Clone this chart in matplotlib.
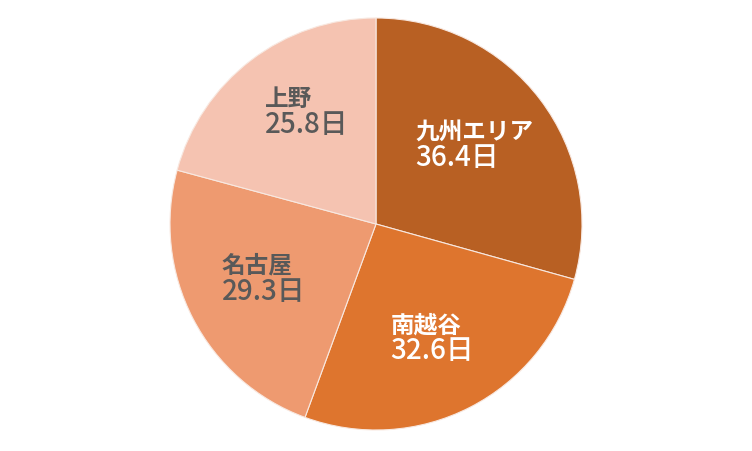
import matplotlib
matplotlib.use("Agg")
import matplotlib.pyplot as plt

names = ["九州エリア", "南越谷", "名古屋", "上野"]
values = [36.4, 32.6, 29.3, 25.8]
unit = "日"

colors = ["#B86023", "#DE752E", "#EE9A70", "#F5C3B1"]
text_colors = ["white", "white", "#595959", "#595959"]
label_pos = [(0.19, 0.37), (0.07, -0.57), (-0.75, -0.28), (-0.54, 0.53)]

plt.rcParams['font.family'] = ['Noto Sans CJK JP', 'DejaVu Sans']

W, H = 752, 452
fig = plt.figure(figsize=(W / 100, H / 100), dpi=100)
cx, cy, R = 376, 225, 206
ax = fig.add_axes([(cx - R) / W, (H - cy - R) / H, 2 * R / W, 2 * R / H])
ax.pie(values, colors=colors, startangle=90, counterclock=False, radius=1,
       wedgeprops=dict(edgecolor="#F8E8E0", linewidth=0.8))
ax.set_xlim(-1, 1)
ax.set_ylim(-1, 1)
ax.set_aspect("equal")
ax.axis("off")

for name, v, tc, (x, y) in zip(names, values, text_colors, label_pos):
    ax.text(x, y + 0.025, name, color=tc, fontsize=17, fontweight="bold",
            ha="left", va="bottom")
    ax.text(x, y + 0.03, f"{v}{unit}", color=tc, fontsize=20,
            fontweight="medium", ha="left", va="top")

fig.savefig("out.png", dpi=100)
